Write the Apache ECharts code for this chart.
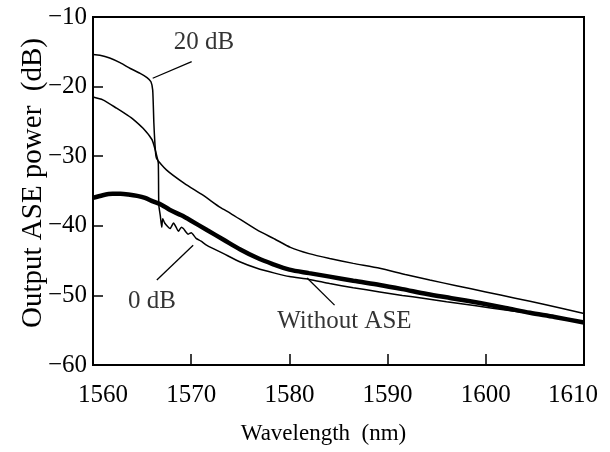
<!DOCTYPE html>
<html>
<head>
<meta charset="utf-8">
<script src="https://cdn.jsdelivr.net/npm/echarts@6/dist/echarts.min.js"></script>
<style>
  html, body { margin: 0; padding: 0; background: #fff; }
  #chart { width: 610px; height: 452px; }
</style>
</head>
<body>
<div id="chart"></div>
<script>
// Axis ranges and ticks
const xTicks = [1560, 1570, 1580, 1590, 1600, 1610];
const yTicks = [-60, -50, -40, -30, -20, -10];

// Output spectrum with 20 dB ASE input
const wave20 = [1560, 1560.7, 1561.7, 1562.8, 1563.8, 1564.8, 1565.5, 1565.9, 1566.08, 1566.2, 1566.35, 1566.47,
  1567.5, 1569.3, 1571.2, 1573.0, 1574.0, 1576.7, 1578.5, 1580.1, 1582.0, 1584.1, 1586.5, 1589.2,
  1591.8, 1594.3, 1597.0, 1600.0, 1603.0, 1606.0, 1610];
const power20 = [-15.4, -15.5, -15.9, -16.6, -17.4, -18.1, -18.7, -19.3, -20.5, -25.3, -29.1, -30.3,
  -32.0, -33.9, -35.6, -37.4, -38.2, -40.6, -41.9, -43.1, -44.0, -44.7, -45.4, -46.1,
  -47.0, -47.8, -48.6, -49.5, -50.4, -51.3, -52.6];

// Output spectrum with 0 dB ASE input
const wave0 = [1560, 1561, 1562.4, 1563.5, 1564.1, 1565.1, 1566.0, 1566.24, 1566.5, 1566.65, 1566.7, 1566.85,
  1567.0, 1567.1, 1567.3, 1567.6, 1567.85, 1568.2, 1568.5, 1568.7, 1569.0, 1569.2, 1569.7, 1570.0,
  1570.5, 1571.0, 1571.6, 1573.3, 1575.0, 1576.7, 1578.5, 1580.0, 1582.0, 1584.1, 1586.5, 1589.2,
  1591.5, 1593.6, 1596.0, 1599.0, 1602.0, 1605.0, 1608.0, 1610];
const power0 = [-21.5, -21.9, -23.1, -24.1, -24.7, -26.0, -27.6, -28.6, -30.0, -31.0, -37.0, -38.5,
  -40.2, -39.0, -39.6, -40.1, -40.4, -39.6, -40.3, -40.8, -40.2, -40.4, -41.2, -41.0,
  -41.8, -42.2, -42.8, -44.0, -45.2, -46.1, -46.8, -47.3, -47.7, -48.3, -48.9, -49.5,
  -50.0, -50.4, -50.9, -51.5, -52.1, -52.7, -53.4, -53.9];

// Output spectrum without ASE input
const waveNo = [1560, 1561, 1562, 1562.8, 1563.6, 1564.5, 1565.3, 1566.1, 1567, 1567.8, 1569, 1569.9,
  1571.6, 1573.3, 1575, 1576.7, 1578.3, 1580, 1582, 1584.1, 1586.5, 1589.2, 1591.5, 1594,
  1596.5, 1599.4, 1602, 1604.5, 1607, 1610];
const powerNo = [-36.0, -35.6, -35.4, -35.4, -35.5, -35.7, -36.0, -36.5, -37.0, -37.7, -38.5, -39.2,
  -40.6, -42.0, -43.4, -44.6, -45.5, -46.3, -46.8, -47.3, -47.9, -48.5, -49.1, -49.8,
  -50.4, -51.1, -51.8, -52.5, -53.1, -53.9];

// Curve labels: text, text anchor, pointer start, pointer end (wavelength, dB)
const labelText = ['20 dB', '0 dB', 'Without ASE'];
const labelAt = [[1571.3, -13.6], [1566.0, -50.8], [1585.6, -53.8]];
const pointerFrom = [[1570.05, -16.4], [1566.5, -47.8], [1584.6, -51.4]];
const pointerTo = [[1566.08, -18.8], [1570.2, -42.8], [1581.8, -47.5]];

const FONT = '"Liberation Serif", "Times New Roman", serif';
const zip = (xs, ys) => xs.map((x, i) => [x, ys[i]]);
const minus = v => (v < 0 ? '\u2212' + Math.abs(v) : String(v));

const chart = echarts.init(document.getElementById('chart'), null, { renderer: 'canvas' });

const lineSeries = (name, xs, ys, width, smooth) => ({
  name,
  type: 'line',
  data: zip(xs, ys),
  showSymbol: false,
  symbol: 'none',
  smooth,
  lineStyle: { color: '#000', width },
  z: width > 2 ? 2 : 3
});

chart.setOption({
  animation: false,
  backgroundColor: '#fff',
  grid: {
    left: 93, right: 26, top: 17, bottom: 87,
    show: true, borderColor: '#000', borderWidth: 2, backgroundColor: 'transparent'
  },
  xAxis: {
    type: 'value',
    min: xTicks[0], max: xTicks[xTicks.length - 1], interval: 10,
    name: 'Wavelength  (nm)',
    nameLocation: 'middle',
    nameGap: 57,
    nameMoveOverlap: false,
    nameTextStyle: { fontFamily: FONT, fontSize: 23, color: '#000', padding: [0, 30, 0, 0] },
    axisLine: { show: true, lineStyle: { color: '#000', width: 2 } },
    axisTick: { show: true, inside: true, length: 11, lineStyle: { color: '#000', width: 1.5 } },
    splitLine: { show: false },
    axisLabel: {
      fontFamily: FONT, fontSize: 25, color: '#000', margin: 18,
      formatter: v => {
        if (v === xTicks[0]) return '{first|' + v + '}';
        if (v === xTicks[xTicks.length - 1]) return '{last|' + v + '}';
        return String(v);
      },
      rich: {
        first: { fontFamily: FONT, fontSize: 25, color: '#000', padding: [0, 0, 0, 20] },
        last: { fontFamily: FONT, fontSize: 25, color: '#000', padding: [0, 22, 0, 0] }
      }
    }
  },
  yAxis: {
    type: 'value',
    min: yTicks[0], max: yTicks[yTicks.length - 1], interval: 10,
    name: 'Output ASE power  (dB)',
    nameLocation: 'middle',
    nameGap: 45,
    nameMoveOverlap: false,
    nameRotate: 90,
    nameTextStyle: { fontFamily: FONT, fontSize: 29, color: '#000', padding: [0, 0, 0, 16] },
    axisLine: { show: true, lineStyle: { color: '#000', width: 2 } },
    axisTick: { show: true, inside: true, length: 10, lineStyle: { color: '#000', width: 1.5 } },
    splitLine: { show: false },
    axisLabel: { fontFamily: FONT, fontSize: 25, color: '#000', margin: 6, formatter: minus }
  },
  series: [
    lineSeries('Without ASE', waveNo, powerNo, 4.5, 0.3),
    lineSeries('0 dB', wave0, power0, 1.5, 0.2),
    lineSeries('20 dB', wave20, power20, 1.5, 0.2),
    {
      name: 'labels',
      type: 'scatter',
      symbolSize: 0,
      silent: true,
      data: labelAt.map((p, i) => ({ value: p, name: labelText[i] })),
      label: {
        show: true, position: 'inside', formatter: p => p.name,
        fontFamily: FONT, fontSize: 25, color: '#000'
      },
      markLine: {
        silent: true,
        symbol: ['none', 'none'],
        label: { show: false },
        lineStyle: { color: '#000', width: 1.3, type: 'solid' },
        data: pointerFrom.map((p, i) => [{ coord: p }, { coord: pointerTo[i] }])
      },
      z: 5
    }
  ]
});
</script>
</body>
</html>
